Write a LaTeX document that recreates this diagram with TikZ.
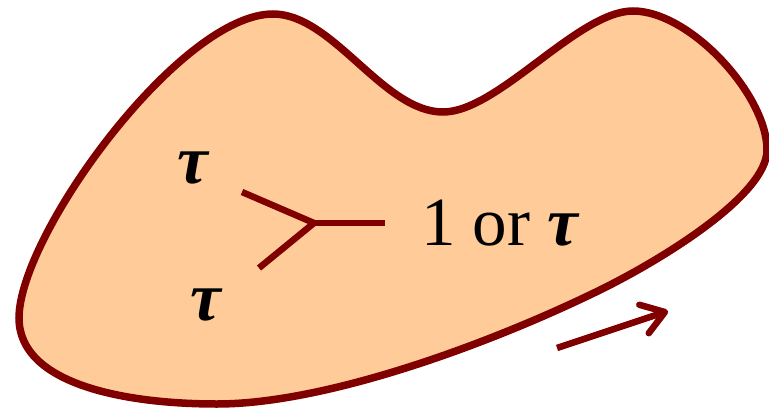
\documentclass[tikz,border=0pt]{standalone}
\usepackage{fontspec}
\setmainfont{Liberation Serif}
\usepackage{tikz}
\usetikzlibrary{arrows.meta,positioning,calc}
\definecolor{rimcol}{RGB}{128,0,0}
\definecolor{regioncol}{RGB}{254,203,153}

\begin{document}
\begin{tikzpicture}[
  x=1pt, y=-1pt,
  region/.style={draw=rimcol, fill=regioncol, line width=7.5pt},
  leg/.style={draw=rimcol, line width=6.5pt},
  lbl/.style={inner sep=0pt, font=\fontsize{69}{80}\selectfont},
  arr/.style={-{Straight Barb[length=22pt,width=30pt,round]}, draw=rimcol, line width=6.5pt}]
  \useasboundingbox (0,0) rectangle (769,410);
  % the region
  \draw[region] (273,14) .. controls (333,14) and (383,112) .. (443,112)
    .. controls (498,112) and (578,11) .. (633,11)
    .. controls (690,11) and (767,95) .. (767,150)
    .. controls (767,195) and (663,259) .. (600,290)
    .. controls (492,343) and (327,404) .. (217,404)
    .. controls (127,404) and (19,385) .. (19,318)
    .. controls (19,235) and (180,14) .. cycle;
  % fusion vertex
  \coordinate (j) at (314,223);
  \coordinate (up) at (242,192);
  \coordinate (lo) at (259,268);
  \coordinate (out) at (385,223);
  \draw[leg] (up) -- (j) -- (lo);
  \draw[leg] (j) -- (out);
  \node[lbl, anchor=base] (tauup) at (194,183) {\textbf{\textit{τ}}};
  \node[lbl, anchor=base] (taulo) at (207,320) {\textbf{\textit{τ}}};
  \node[lbl, anchor=base west] (fuse) at (421,245) {1 or \textbf{\textit{τ}}};
  % orientation
  \coordinate (tail) at (557,348);
  \coordinate (head) at (668,311);
  \draw[arr] (tail) -- (head);
\end{tikzpicture}
\end{document}
